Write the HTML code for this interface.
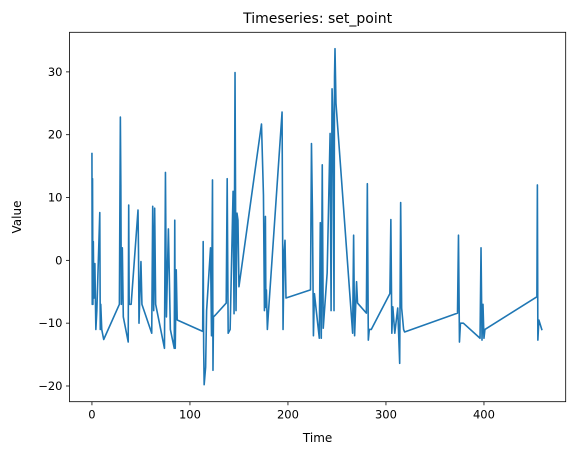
<!DOCTYPE html>
<html><head><meta charset="utf-8"><style>
body{margin:0;background:#fff;}
svg text{font-family:"DejaVu Sans","Liberation Sans",sans-serif;fill:#000;}
</style></head><body>
<svg id="chart" width="574" height="455" viewBox="0 0 574 455" xmlns="http://www.w3.org/2000/svg">
<rect width="574" height="455" fill="#fff"/>
<text x="317.6" y="23" font-size="14" text-anchor="middle">Timeseries: set_point</text>
<g id="ticks"></g>
<polyline id="series" fill="none" stroke="#1f77b4" stroke-width="1.6" stroke-linejoin="round" stroke-linecap="square"/>
<rect x="69.5" y="32.3" width="496.2" height="369.4" fill="none" stroke="#000" stroke-width="0.8"/>
<text x="317.6" y="442" font-size="12" text-anchor="middle">Time</text>
<text x="0" y="0" font-size="12" text-anchor="middle" transform="translate(21,217) rotate(-90)">Value</text>
</svg>
<script>
const xTicks=[0,100,200,300,400];
const yTicks=[30,20,10,0,-10,-20];
const times=[
0,0.3,0.6,1,1.4,2,3,4,5,
8,8.5,9,10,12,
28,29,29.5,30,31,32,
37,37.5,38,40,
47,47.5,48,50,51,
61,62,63,64,65,
74,75,76,78,80,
84,84.5,85,86,87,
113,113.5,114,114.5,116,117,
121,122,123,123.5,124,126,
137,138,139,141,
144,145,146,147,148,149,150,
173,175,176,177,177.5,178,179,180,
194,195,196,197,198,
223,224,225,226,227,
232,233,234,235,236,240,243,244,245,246,247,247.5,248,249,
266,267,268,270,271,
280,281,282,283,285,
304,305,306,307,309,312,314,315,316,318,319,
373,374,375,376,379,
396,397,398,399,400,401,
454,454.5,455,456,459];
const values=[
17,-7,13,-7,3,-6,-0.5,-11,-8,
7.6,-11,-7,-11,-12.6,
-7,22.8,12,-7,2,-9,
-13,8.8,-7,-7,
8,1.6,-10,-0.2,-7,
-11.6,8.6,-8,8.3,-7,
-14,14,-9,5,-11,
-14,6.4,-14,-1.5,-9.5,
-11.3,3,-14,-19.8,-17,-8,
2,-12,12.8,-17.5,-9,-8.7,
-6.8,13,-11.6,-11,
11,-8.5,29.9,-8,7.5,6.4,-4.2,
21.7,10.4,-8,7,-7.5,-4.7,-11,-8.5,
23.6,-11,1,3.2,-6,
-4.7,18.6,7.5,-12,-5.3,
-12.4,6,-12.4,15.2,-10.8,-2,20.2,-8,27.3,22.3,-8,29.2,33.7,25,
-11.6,4,-12,-3.4,-6.8,
-8.4,12.2,-12.7,-11,-11,
-5.3,6.5,-11.6,-7.4,-11.6,-7.6,-16.4,9.2,-7.6,-11,-11.4,
-8.4,4,-13,-10,-10,
-12.4,2,-12.7,-7,-12.4,-11,
-5.8,12,-12.7,-9.5,-11];
const X0=69.5,X1=565.7,Y0=32.3,Y1=401.7;
const xMin=-22.9,xMax=483.4,yMin=-22.5,yMax=36.3;
function sx(v){return X0+(v-xMin)/(xMax-xMin)*(X1-X0);}
function sy(v){return Y1-(v-yMin)/(yMax-yMin)*(Y1-Y0);}
const NS="http://www.w3.org/2000/svg";
const g=document.getElementById('ticks');
function fmt(v){return v<0?'\u2212'+(-v):String(v);}
xTicks.forEach(t=>{
  const l=document.createElementNS(NS,'line');
  l.setAttribute('x1',sx(t));l.setAttribute('x2',sx(t));l.setAttribute('y1',Y1);l.setAttribute('y2',Y1+3.5);
  l.setAttribute('stroke','#000');l.setAttribute('stroke-width','0.8');
  
  
  g.appendChild(l);
  const tx=document.createElementNS(NS,'text');
  tx.setAttribute('x',sx(t));tx.setAttribute('y',Y1+17);tx.setAttribute('font-size','11.5');tx.setAttribute('text-anchor','middle');
  tx.textContent=fmt(t);
  
  
  g.appendChild(tx);
});
yTicks.forEach(t=>{
  const l=document.createElementNS(NS,'line');
  l.setAttribute('x1',X0-3.5);l.setAttribute('x2',X0);l.setAttribute('y1',sy(t));l.setAttribute('y2',sy(t));
  l.setAttribute('stroke','#000');l.setAttribute('stroke-width','0.8');
  
  
  g.appendChild(l);
  const tx=document.createElementNS(NS,'text');
  tx.setAttribute('x',X0-7);tx.setAttribute('y',sy(t)+4);tx.setAttribute('font-size','11.5');tx.setAttribute('text-anchor','end');
  tx.textContent=fmt(t);
  
  
  g.appendChild(tx);
});
const n=Math.min(times.length,values.length);
const pts=[];
for(let i=0;i<n;i++){pts.push(sx(times[i]).toFixed(2)+','+sy(values[i]).toFixed(2));}
document.getElementById('series').setAttribute('points',pts.join(' '));
</script>
</body></html>
